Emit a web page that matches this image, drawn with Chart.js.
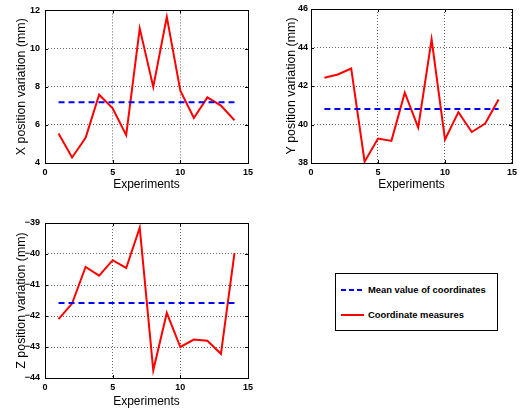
<!DOCTYPE html>
<html>
<head>
<meta charset="utf-8">
<script src="https://cdn.jsdelivr.net/npm/chart.js@4.4.0/dist/chart.umd.min.js"></script>
<style>
  body { margin: 0; background: #fff; }
  #page { position: relative; width: 521px; height: 410px; overflow: hidden; }
  .box { position: absolute; }
  #legend {
    position: absolute; left: 335px; top: 273px; width: 161px; height: 56px;
    border: 1px solid #000; background: #fff;
    font: bold 9.4px "Liberation Sans", Arial, sans-serif; color: #000;
  }
  .row { position: absolute; left: 4px; height: 12px; line-height: 12px; white-space: nowrap; }
  .row svg { position: absolute; left: 0; top: 0; }
  .row span { position: absolute; left: 28px; top: 0; }
</style>
</head>
<body>
<div id="page">
  <div class="box" style="left:0;top:0;width:260px;height:200px"><canvas id="cx"></canvas></div>
  <div class="box" style="left:260px;top:0;width:261px;height:200px"><canvas id="cy"></canvas></div>
  <div class="box" style="left:0;top:200px;width:260px;height:210px"><canvas id="cz"></canvas></div>
  <div id="legend">
    <div class="row" style="top:10px">
      <svg width="24" height="12"><line x1="1" y1="6" x2="24" y2="6" stroke="#0000ff" stroke-width="2" stroke-dasharray="5,3"/></svg>
      <span id="lab1"></span>
    </div>
    <div class="row" style="top:35px">
      <svg width="24" height="12"><line x1="1" y1="6" x2="24" y2="6" stroke="#ff0000" stroke-width="2"/></svg>
      <span id="lab2"></span>
    </div>
  </div>
</div>
<script>
const experiments = [1, 2, 3, 4, 5, 6, 7, 8, 9, 10, 11, 12, 13, 14]
const xMeasures = [5.55, 4.29, 5.32, 7.58, 6.87, 5.46, 11.06, 7.99, 11.66, 7.79, 6.36, 7.44, 7.01, 6.24]
const yMeasures = [42.43, 42.6, 42.91, 38.07, 39.27, 39.15, 41.65, 39.84, 44.42, 39.22, 40.64, 39.61, 40.05, 41.3]
const zMeasures = [-42.1, -41.6, -40.42, -40.7, -40.2, -40.45, -39.15, -43.75, -41.9, -43.0, -42.76, -42.8, -43.22, -39.97]
const xMean = 7.18
const yMean = 40.8
const zMean = -41.58
const xTicks = [0, 5, 10, 15]
const legendLabels = ['Mean value of coordinates', 'Coordinate measures']

document.getElementById('lab1').textContent = legendLabels[0]
document.getElementById('lab2').textContent = legendLabels[1]

const fontFamily = '"Liberation Sans", Arial, sans-serif'

// black box round the plot area plus inward ticks, like matlab
const boxPlugin = {
    id: 'boxPlugin',
    afterDraw(chart) {
        const ctx = chart.ctx
        const a = chart.chartArea
        const xs = chart.scales.x
        const ys = chart.scales.y
        ctx.save()
        ctx.strokeStyle = '#000'
        ctx.lineWidth = 1
        ctx.setLineDash([])
        ctx.beginPath()
        xs.ticks.forEach(t => {
            const px = Math.round(xs.getPixelForValue(t.value)) + 0.5
            ctx.moveTo(px, a.bottom); ctx.lineTo(px, a.bottom - 3)
            ctx.moveTo(px, a.top); ctx.lineTo(px, a.top + 3)
        })
        ys.ticks.forEach(t => {
            const py = Math.round(ys.getPixelForValue(t.value)) + 0.5
            ctx.moveTo(a.left, py); ctx.lineTo(a.left + 3, py)
            ctx.moveTo(a.right, py); ctx.lineTo(a.right - 3, py)
        })
        ctx.stroke()
        ctx.strokeRect(Math.round(a.left) + 0.5, Math.round(a.top) + 0.5, Math.round(a.right - a.left), Math.round(a.bottom - a.top))
        ctx.restore()
    }
}

function makeChart(id, values, mean, cfg){
    const measures = experiments.map((e, i) => ({x: e, y: values[i]}))
    const meanLine = [{x: experiments[0], y: mean}, {x: experiments[experiments.length - 1], y: mean}]
    const ctx = document.getElementById(id).getContext('2d')
    return new Chart(ctx, {
        type: 'line',
        data: {
            datasets: [{
                label: legendLabels[0],
                data: meanLine,
                borderColor: '#0000ff',
                borderWidth: 2,
                borderDash: [6, 4],
                pointRadius: 0,
                tension: 0
            }, {
                label: legendLabels[1],
                data: measures,
                borderColor: '#ff0000',
                borderWidth: 2,
                pointRadius: 0,
                tension: 0
            }]
        },
        options: {
            responsive: true,
            maintainAspectRatio: false,
            animation: false,
            layout: { padding: { top: cfg.top, right: cfg.right, left: 0, bottom: 0 } },
            plugins: { legend: { display: false }, tooltip: { enabled: false } },
            scales: {
                x: {
                    type: 'linear',
                    min: 0,
                    max: 15,
                    afterBuildTicks: s => { s.ticks = xTicks.map(v => ({value: v})) },
                    afterFit: s => { s.height = cfg.xHeight },
                    grid: { color: 'rgba(0,0,0,0.6)', drawTicks: false },
                    border: { display: false, dash: [1, 2] },
                    ticks: { padding: 4, color: '#000', font: { family: fontFamily, size: 9, weight: 'bold' } },
                    title: {
                        display: true, text: 'Experiments', color: '#000',
                        padding: { top: 0, bottom: cfg.xTitlePad },
                        font: { family: fontFamily, size: 12 }
                    }
                },
                y: {
                    min: cfg.min,
                    max: cfg.max,
                    afterBuildTicks: s => { s.ticks = cfg.ticks.map(v => ({value: v})) },
                    afterFit: s => { s.width = cfg.yWidth },
                    grid: { color: 'rgba(0,0,0,0.6)', drawTicks: false },
                    border: { display: false, dash: [1, 2] },
                    ticks: {
                        padding: cfg.tickPad, color: '#000',
                        font: { family: fontFamily, size: 9, weight: 'bold' },
                        callback: v => String(v).replace('-', '\u2212')
                    },
                    title: {
                        display: true, text: cfg.title, color: '#000',
                        padding: { top: cfg.yTitlePad, bottom: 0 },
                        font: { family: fontFamily, size: 12.4 }
                    }
                }
            }
        },
        plugins: [boxPlugin]
    })
}

document.addEventListener('DOMContentLoaded', function(){
    makeChart('cx', xMeasures, xMean, {
        top: 8, right: 12, xHeight: 37, yWidth: 45, tickPad: 5, xTitlePad: 8, yTitlePad: 14,
        min: 4, max: 12, ticks: [4, 6, 8, 10, 12], title: 'X position variation (mm)'
    })
    makeChart('cy', yMeasures, yMean, {
        top: 9, right: 6, xHeight: 37, yWidth: 51, tickPad: 3, xTitlePad: 8, yTitlePad: 24,
        min: 38, max: 46, ticks: [38, 40, 42, 44, 46], title: 'Y position variation (mm)'
    })
    makeChart('cz', zMeasures, zMean, {
        top: 23, right: 12, xHeight: 32, yWidth: 45, tickPad: 5, xTitlePad: 1, yTitlePad: 14,
        min: -44, max: -39, ticks: [-44, -43, -42, -41, -40, -39], title: 'Z position variation (mm)'
    })
})
</script>
</body>
</html>
